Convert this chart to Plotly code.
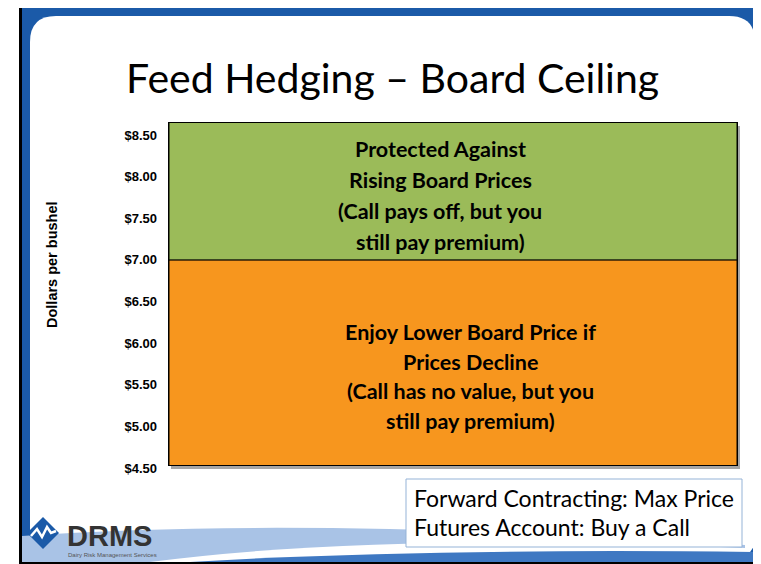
import plotly.graph_objects as go

# ---------------- data ----------------
zone_names = ["Below ceiling", "Above ceiling"]
zone_bottom = [4.50, 7.00]
zone_top = [7.00, 8.65]
tick_values = [4.50, 5.00, 5.50, 6.00, 6.50, 7.00, 7.50, 8.00, 8.50]
green_lines = ["Protected Against", "Rising Board Prices", "(Call pays off, but you", "still pay premium)"]
orange_lines = ["Enjoy Lower Board Price if", "Prices Decline", "(Call has no value, but you", "still pay premium)"]
box_lines = ["Forward Contracting: Max Price", "Futures Account: Buy a Call"]
title_text = "Feed Hedging \u2013 Board Ceiling"
axis_title = "Dollars per bushel"

# ---------------- layout geometry (page pixels) ----------------
OFF = 8                      # default page body margin
PAGE_W, PAGE_H = 761, 564
W, H = PAGE_W - OFF, PAGE_H - OFF
L, R, T, B = 169, 737, 123, 471      # plot area in page pixels
BAR_TOP, BAR_BOT = 123, 465          # bar frame in page pixels
PW, PH = R - L, B - T


def px(x):
    return (x - L) / PW


def py(y):
    return (B - y) / PH


def path(points, close=True):
    s = ""
    for cmd, *pts in points:
        s += cmd
        coords = []
        for i in range(0, len(pts), 2):
            coords.append(f"{px(pts[i]):.5f},{py(pts[i+1]):.5f}")
        s += " ".join(coords) + " "
    if close:
        s += "Z"
    return s


GREEN = "#9BBB59"
ORANGE = "#F7961E"
BLUE = "#1B5AA8"
LIGHTBLUE = "#A9C3E6"

fig = go.Figure()
colors = [ORANGE, GREEN]
for name, b0, b1, c in zip(zone_names, zone_bottom, zone_top, colors):
    fig.add_trace(go.Bar(
        x=[0], y=[b1 - b0], base=[b0], name=name, width=1,
        marker=dict(color=c, line=dict(color="black", width=1)),
        hoverinfo="skip", showlegend=False, xaxis="x", yaxis="y"))

shapes = []
# outer black frame + blue band
shapes.append(dict(type="rect", xref="paper", yref="paper", x0=px(19), x1=px(775), y0=py(5), y1=py(575),
                   fillcolor="black", line=dict(width=0), layer="below"))
shapes.append(dict(type="rect", xref="paper", yref="paper", x0=px(22), x1=px(775), y0=py(8), y1=py(562),
                   fillcolor=BLUE, line=dict(width=0), layer="below"))
# white rounded panel
r = 26
panel = path([("M", 30, 562), ("L", 30, 16 + r), ("Q", 30, 16, 30 + r, 16), ("L", 755 - r, 16),
              ("Q", 755, 16, 755, 16 + r), ("L", 755, 538), ("Q", 755, 556, 735, 558), ("L", 30, 562)])
shapes.append(dict(type="path", xref="paper", yref="paper", path=panel, fillcolor="white",
                   line=dict(width=0), layer="below"))
# bottom waves
wave1 = path([("M", 22, 536), ("Q", 300, 516, 745, 545), ("L", 745, 562), ("L", 22, 562)])
shapes.append(dict(type="path", xref="paper", yref="paper", path=wave1, fillcolor=LIGHTBLUE,
                   line=dict(width=0), layer="below"))
wave2 = path([("M", 150, 562), ("Q", 380, 532, 745, 548), ("L", 745, 562)])
shapes.append(dict(type="path", xref="paper", yref="paper", path=wave2, fillcolor="white",
                   line=dict(width=0), layer="below"))
wave3 = path([("M", 190, 562), ("Q", 420, 548, 760, 552), ("L", 760, 562)])
shapes.append(dict(type="path", xref="paper", yref="paper", path=wave3, fillcolor="#3F78C2",
                   line=dict(width=0), layer="below"))
# plot shadow
shapes.append(dict(type="rect", xref="paper", yref="paper", x0=px(171), x1=px(740), y0=py(126), y1=py(469),
                   fillcolor="#A6A6A6", line=dict(width=0), layer="below"))
# text box
shapes.append(dict(type="rect", xref="paper", yref="paper", x0=px(406), x1=px(742), y0=py(479), y1=py(547),
                   fillcolor="white", line=dict(color="#95B3D7", width=1), layer="below"))
# logo diamond
diamond = path([("M", 43, 517), ("L", 59, 533), ("L", 43, 549), ("L", 27, 533)])
shapes.append(dict(type="path", xref="paper", yref="paper", path=diamond, fillcolor=BLUE,
                   line=dict(width=0), layer="below"))
zig = path([("M", 31, 536), ("L", 37, 529), ("L", 42, 537), ("L", 47, 527), ("L", 51, 533), ("L", 56, 531)], close=False)
shapes.append(dict(type="path", xref="paper", yref="paper", path=zig, fillcolor="rgba(0,0,0,0)",
                   line=dict(width=2.5, color="white"), layer="below"))

annotations = []
annotations.append(dict(x=px(392), y=py(77), xref="paper", yref="paper", text=title_text, showarrow=False,
                        font=dict(family="Lato", size=41, color="black"), xanchor="center", yanchor="middle"))
annotations.append(dict(x=px(52), y=py(265), xref="paper", yref="paper", text=f"<b>{axis_title}</b>",
                        showarrow=False, textangle=-90,
                        font=dict(family="Liberation Sans", size=14.5, color="black"),
                        xanchor="center", yanchor="middle"))
for i, t in enumerate(green_lines):
    annotations.append(dict(x=px(440), y=py(149 + 31 * i), xref="paper", yref="paper", text=f"<b>{t}</b>",
                            showarrow=False, font=dict(family="Lato", size=21.5, color="black"),
                            xanchor="center", yanchor="middle"))
for i, t in enumerate(orange_lines):
    annotations.append(dict(x=px(470), y=py(332 + 29.7 * i), xref="paper", yref="paper", text=f"<b>{t}</b>",
                            showarrow=False, font=dict(family="Lato", size=21.5, color="black"),
                            xanchor="center", yanchor="middle"))
for i, t in enumerate(box_lines):
    annotations.append(dict(x=px(412), y=py(498 + 29 * i), xref="paper", yref="paper", text=t,
                            showarrow=False, font=dict(family="Lato", size=23, color="black"),
                            xanchor="left", yanchor="middle"))
annotations.append(dict(x=px(65), y=py(536), xref="paper", yref="paper", text="<b>DRMS</b>", showarrow=False,
                        font=dict(family="Liberation Sans", size=29, color="#333333"),
                        xanchor="left", yanchor="middle"))
annotations.append(dict(x=px(66), y=py(555), xref="paper", yref="paper", text="Dairy Risk Management Services",
                        showarrow=False, font=dict(family="Liberation Sans", size=6, color="#555555"),
                        xanchor="left", yanchor="middle"))

# one price scale shared by the tick axis and the bar axis
tick_top_px, tick_bot_px = 135, 468
per_px = (tick_values[-1] - tick_values[0]) / (tick_bot_px - tick_top_px)
y2_range = [tick_values[0] - (B - tick_bot_px) * per_px, tick_values[-1] + (tick_top_px - T) * per_px]
y_range = [tick_values[0] + (tick_bot_px - BAR_BOT) * per_px, tick_values[-1] + (tick_top_px - BAR_TOP) * per_px]

fig.update_layout(
    width=W, height=H,
    margin=dict(l=L - OFF, r=PAGE_W - R, t=T - OFF, b=PAGE_H - B, pad=0),
    paper_bgcolor="white", plot_bgcolor="rgba(0,0,0,0)",
    barmode="overlay",
    xaxis=dict(range=[-0.5, 0.5], showticklabels=False, ticks="", showgrid=False, zeroline=False,
               showline=True, mirror=True, linecolor="black", linewidth=1, fixedrange=True),
    yaxis=dict(range=y_range, showticklabels=False, ticks="", showgrid=False, zeroline=False,
               showline=True, mirror=True, linecolor="black", linewidth=1, fixedrange=True,
               domain=[(B - BAR_BOT) / PH, 1 - (BAR_TOP - T) / PH]),
    yaxis2=dict(range=y2_range, domain=[0, 1], side="left", anchor="free", position=0,
                tickvals=tick_values,
                tickformat="$.2f", showgrid=False, zeroline=False, showline=False, ticks="",
                ticklabelstandoff=12,
                tickfont=dict(family="Liberation Sans", size=13, color="black", weight="bold"),
                fixedrange=True),
    shapes=shapes, annotations=annotations,
    showlegend=False,
)
# invisible trace that carries the tick axis
fig.add_trace(go.Scatter(x=[None], y=[None], xaxis="x", yaxis="y2", showlegend=False, hoverinfo="skip"))

fig.write_html("out.html")
